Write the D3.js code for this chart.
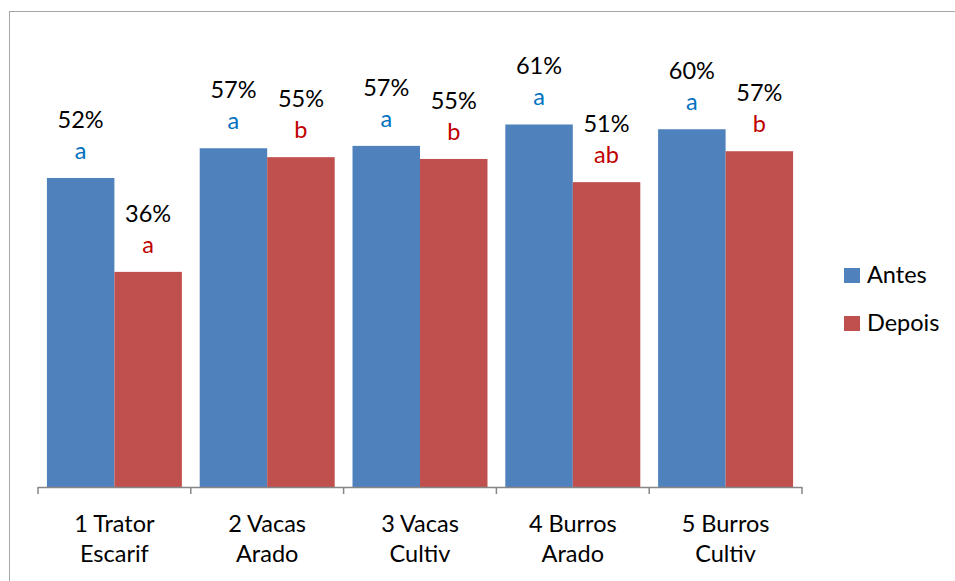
<!DOCTYPE html>
<html>
<head>
<meta charset="utf-8">
<script src="https://d3js.org/d3.v7.min.js"></script>
<style>
  body { margin: 0; background: #fff; }
  svg text { font-family: Lato, "Open Sans", sans-serif; }
</style>
</head>
<body>
<div id="chart"></div>
<script>
const categories = [["1 Trator", "Escarif"], ["2 Vacas", "Arado"], ["3 Vacas", "Cultiv"], ["4 Burros", "Arado"], ["5 Burros", "Cultiv"]];
const series = ["Antes", "Depois"];
const antes = [0.52, 0.57, 0.574, 0.61, 0.602];
const depois = [0.362, 0.555, 0.552, 0.513, 0.565];
const antesLabels = ["52%", "57%", "57%", "61%", "60%"];
const depoisLabels = ["36%", "55%", "55%", "51%", "57%"];
const antesLetters = ["a", "a", "a", "a", "a"];
const depoisLetters = ["a", "b", "b", "ab", "b"];

const colors = ["#4F81BD", "#C0504D"];
const letterColors = ["#0070C0", "#C00000"];

const width = 955, height = 581;
const svg = d3.select("#chart").append("svg").attr("width", width).attr("height", height);

// outer chart border (runs off the picture on right/bottom)
svg.append("rect").attr("x", 9.5).attr("y", 11.5).attr("width", 960).attr("height", 600)
    .attr("fill", "none").attr("stroke", "#a6a6a6").attr("stroke-width", 1);

const x0 = d3.scaleBand().domain(d3.range(categories.length)).range([38, 802]).paddingInner(0).paddingOuter(0);
const x1 = d3.scaleBand().domain([0, 1]).range([0, x0.bandwidth()]).paddingInner(0).paddingOuter(0.132);
const y = d3.scaleLinear().domain([0, 0.7]).range([487, 71]);

const rows = categories.map((c, i) => ({
    i,
    vals: [
        { s: 0, v: antes[i], lab: antesLabels[i], let: antesLetters[i] },
        { s: 1, v: depois[i], lab: depoisLabels[i], let: depoisLetters[i] }
    ]
}));

const groups = svg.append("g").selectAll("g").data(rows).enter().append("g")
    .attr("transform", d => "translate(" + x0(d.i) + ",0)");

groups.selectAll("rect").data(d => d.vals).enter().append("rect")
    .attr("x", d => x1(d.s))
    .attr("y", d => y(d.v))
    .attr("width", x1.bandwidth())
    .attr("height", d => y(0) - y(d.v))
    .attr("fill", d => colors[d.s]);

groups.selectAll("text.pct").data(d => d.vals).enter().append("text")
    .attr("class", "pct")
    .attr("x", d => x1(d.s) + x1.bandwidth() / 2)
    .attr("y", d => y(d.v) - 50)
    .attr("text-anchor", "middle")
    .attr("font-size", 23.5)
    .attr("fill", "#000")
    .text(d => d.lab);

groups.selectAll("text.let").data(d => d.vals).enter().append("text")
    .attr("class", "let")
    .attr("x", d => x1(d.s) + x1.bandwidth() / 2)
    .attr("y", d => y(d.v) - 19)
    .attr("text-anchor", "middle")
    .attr("font-size", 23.5)
    .attr("fill", d => letterColors[d.s])
    .text(d => d.let);

// x axis
const xAxis = svg.append("g").attr("transform", "translate(0,487)");
xAxis.append("line").attr("x1", 38).attr("x2", 802).attr("y1", 0.5).attr("y2", 0.5)
    .attr("stroke", "#868686").attr("stroke-width", 1.5);
const tickPos = d3.range(categories.length + 1).map(k => k < categories.length ? x0(k) : x0(k - 1) + x0.bandwidth());
xAxis.selectAll("line.tick").data(tickPos).enter().append("line")
    .attr("class", "tick")
    .attr("x1", d => d).attr("x2", d => d).attr("y1", 0).attr("y2", 7)
    .attr("stroke", "#868686").attr("stroke-width", 1.5);

const catLabels = xAxis.selectAll("text").data(rows).enter().append("text")
    .attr("x", d => x0(d.i) + x0.bandwidth() / 2)
    .attr("y", 45)
    .attr("text-anchor", "middle")
    .attr("font-size", 23.5)
    .attr("fill", "#000");
catLabels.append("tspan").attr("x", d => x0(d.i) + x0.bandwidth() / 2).text(d => categories[d.i][0]);
catLabels.append("tspan").attr("x", d => x0(d.i) + x0.bandwidth() / 2).attr("dy", 30).text(d => categories[d.i][1]);

// legend
const legend = svg.append("g").attr("transform", "translate(844,268)");
const li = legend.selectAll("g").data(series).enter().append("g")
    .attr("transform", (d, i) => "translate(0," + i * 48 + ")");
li.append("rect").attr("width", 16).attr("height", 15).attr("fill", (d, i) => colors[i]);
li.append("text").attr("x", 23).attr("y", 15).attr("font-size", 23.5).attr("fill", "#000").text(d => d);
</script>
</body>
</html>
